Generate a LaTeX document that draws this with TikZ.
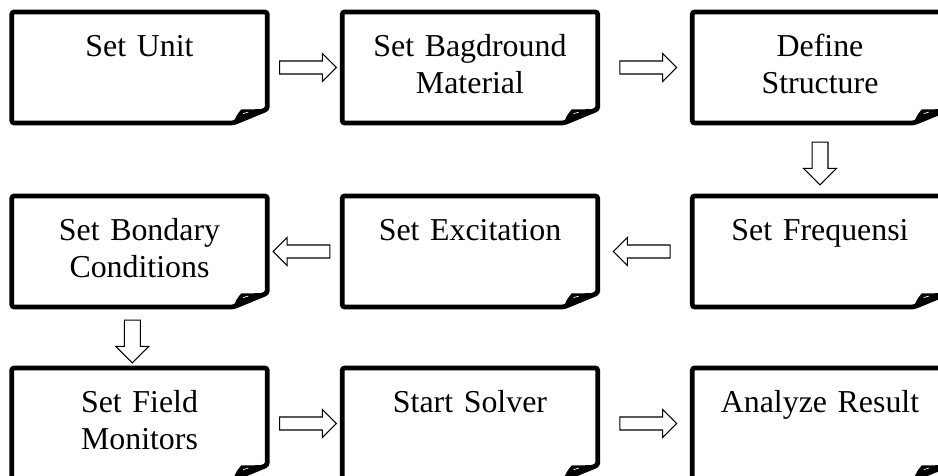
\documentclass[tikz,border=0pt]{standalone}
\usepackage{fontspec}
\setmainfont{Liberation Serif}
\usepackage{tikz}
\usetikzlibrary{shapes.arrows, calc}
\tikzset{
  page/.style={
    rectangle, inner sep=0pt,
    minimum width=192pt, minimum height=83.25pt,
    text width=180pt, align=center,
    text height=33pt, text depth=50.25pt,
    font=\fontsize{24}{28}\selectfont
  },
  pageline/.style={line width=3.6pt, rounded corners=2pt},
  rArr/.style={
    single arrow, draw, fill=white, line width=0.8pt,
    inner sep=4.5pt, minimum height=42.75pt,
    single arrow head extend=5.6pt
  },
  lArr/.style={rArr, shape border rotate=180},
  dArr/.style={
    single arrow, draw, fill=white, line width=0.8pt,
    inner sep=5.6pt, minimum height=32.25pt,
    single arrow head extend=6.4pt, shape border rotate=270
  },
}
\begin{document}
\begin{tikzpicture}

\useasboundingbox (0,0) rectangle (24.818,-12.594);
\clip (0,0) rectangle (24.818,-12.594);

% Row 1 (left to right)
\node[page] at (3.691,-1.786) (unit) {Set Unit};
\node[page] at (12.435,-1.786) (bgmat) {Set Bagdround\\Material};
\node[page] at (21.696,-1.786) (struct) {Define\\Structure};

% Row 2 (right to left)
\node[page] at (21.696,-6.654) (freq) {Set Frequensi};
\node[page] at (12.435,-6.654) (excit) {Set Excitation};
\node[page] at (3.691,-6.654) (bound) {Set Bondary\\Conditions};

% Row 3 (left to right)
\node[page] at (3.691,-11.205) (field) {Set Field\\Monitors};
\node[page] at (12.435,-11.205) (solver) {Start Solver};
\node[page] at (21.696,-11.205) (result) {Analyze Result};

% page outlines with folded corner
\foreach \n in {unit,bgmat,struct,freq,excit,bound,field,solver,result}{
  \draw[pageline] (\n.north west) -- (\n.north east)
    -- ([yshift=0.37cm]\n.south east) -- ([xshift=-0.9cm]\n.south east)
    -- (\n.south west) -- cycle;
  \fill ([xshift=-0.9cm]\n.south east)
    .. controls ([xshift=-0.82cm,yshift=0.2cm]\n.south east)
    .. ([xshift=-0.69cm,yshift=0.36cm]\n.south east)
    -- ([yshift=0.37cm]\n.south east) -- cycle;
  \draw[white, line width=0.5pt] ([xshift=-0.64cm,yshift=0.25cm]\n.south east)
    -- ([xshift=-0.5cm,yshift=0.29cm]\n.south east);
}

% block arrows
\node[rArr] at ($(unit.east)!0.5!(bgmat.west)$) (a1) {};
\node[rArr] at ($(bgmat.east)!0.5!(struct.west)$) (a2) {};
\node[dArr] at ($(struct.south)!0.5!(freq.north)$) (a3) {};
\node[lArr] at ($(freq.west)!0.5!(excit.east)$) (a4) {};
\node[lArr] at ($(excit.west)!0.5!(bound.east)$) (a5) {};
\node[dArr, xshift=-0.19cm] at ($(bound.south)!0.5!(field.north)$) (a6) {};
\node[rArr] at ($(field.east)!0.5!(solver.west)$) (a7) {};
\node[rArr] at ($(solver.east)!0.5!(result.west)$) (a8) {};

\end{tikzpicture}
\end{document}
